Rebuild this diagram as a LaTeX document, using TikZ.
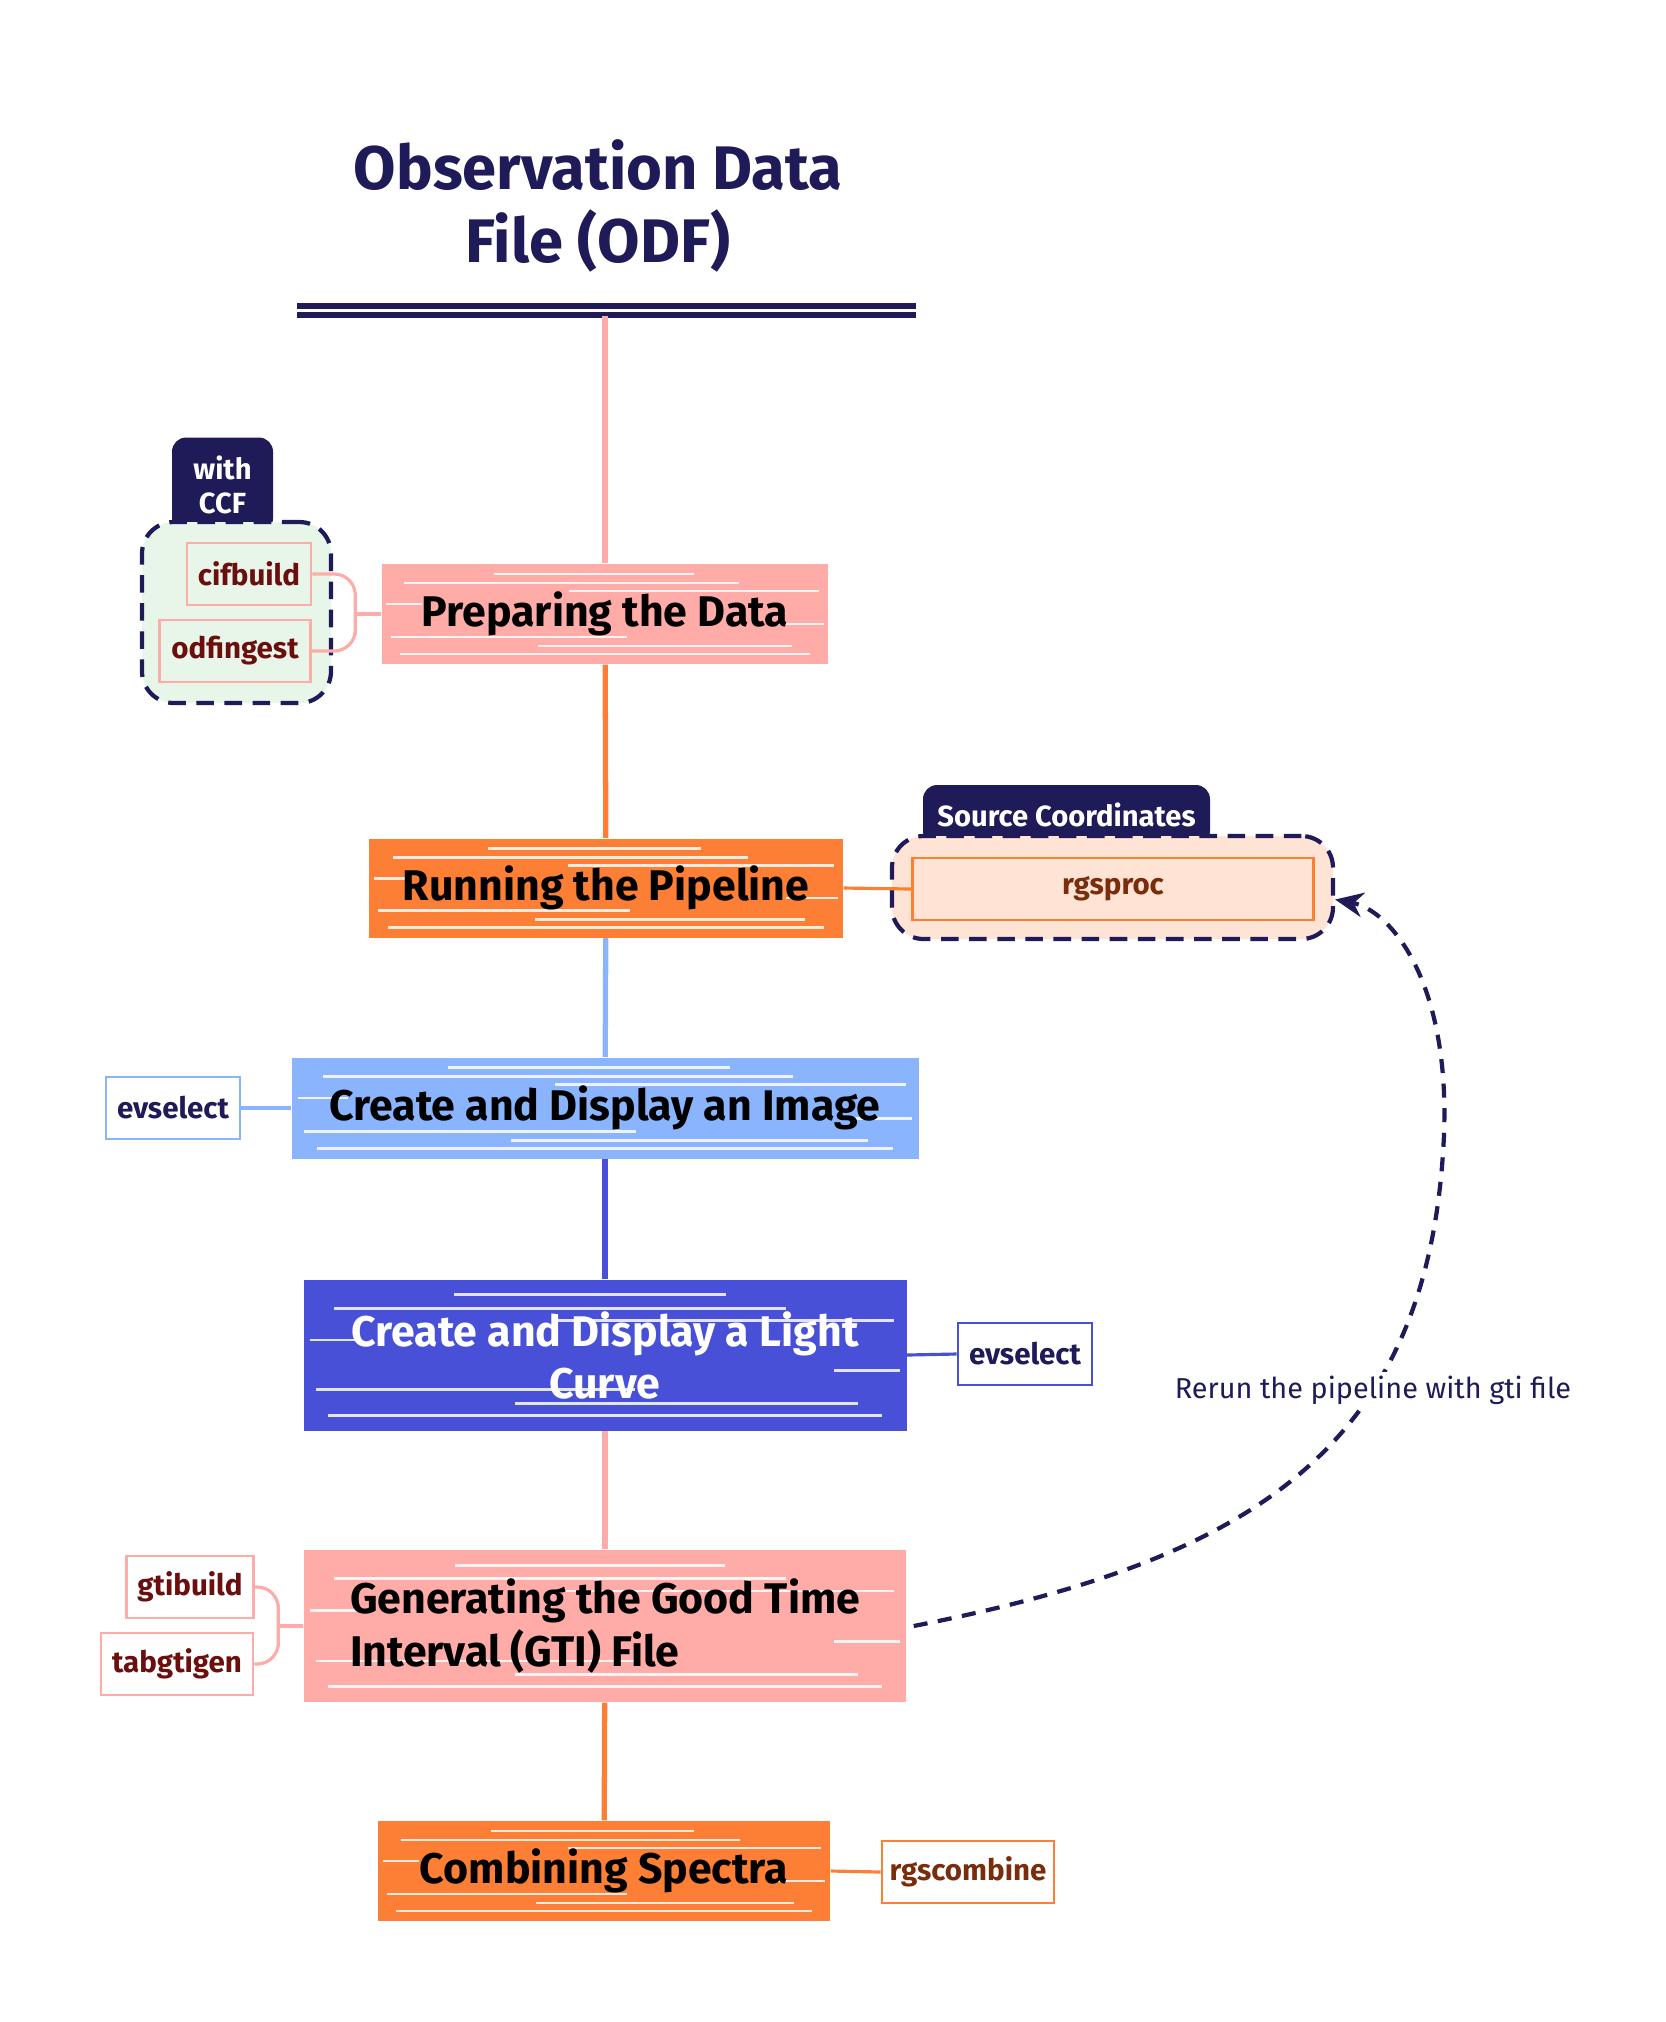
\documentclass[tikz,border=0pt]{standalone}
\usepackage{fontspec}
\setmainfont{Fira Sans}
\usepackage{tikz}
\usetikzlibrary{positioning,calc,arrows.meta}
\definecolor{navy}{HTML}{1E1B58}
\definecolor{pinkbox}{HTML}{FFABA8}
\definecolor{orangebox}{HTML}{FD7F35}
\definecolor{skybox}{HTML}{8AB4FD}
\definecolor{lcbox}{HTML}{4950D8}
\definecolor{ccfgreen}{HTML}{E8F6EA}
\definecolor{peach}{HTML}{FFE4D6}
\definecolor{darkred}{HTML}{6B0E0E}
\definecolor{brownish}{HTML}{7A2D0C}
\tikzstyle{scribble} = [path picture={
  \foreach \h/\l/\r in {0.1/0.04/0.96, 0.18/0.35/0.92, 0.27/0.02/0.55, 0.4/0.88/0.99, 0.6/0.01/0.09, 0.73/0.42/0.98, 0.81/0.05/0.8, 0.9/0.25/0.7}
    \draw[white, line width=0.8pt, opacity=0.85] let \p1=(path picture bounding box.south west), \p2=(path picture bounding box.north east) in
      ({\x1+\l*(\x2-\x1)},{\y1+\h*(\y2-\y1)}) -- ({\x1+\r*(\x2-\x1)},{\y1+\h*(\y2-\y1)});
}]
\tikzstyle{topic} = [rectangle, inner sep=0pt, align=center, font=\fontsize{12.2}{14.8}\selectfont\bfseries, scribble]
\tikzstyle{tool} = [rectangle, draw, line width=0.8pt, fill=white, inner sep=0pt, minimum height=0.62cm, font=\fontsize{8.4}{10}\selectfont\bfseries]
\tikzstyle{group} = [rectangle, draw=navy, line width=1.2pt, dash pattern=on 5pt off 3pt, rounded corners=9pt, inner sep=0pt]
\tikzstyle{tab} = [rectangle, fill=navy, text=white, rounded corners=4pt, inner sep=0pt, align=center, font=\fontsize{8.3}{9.5}\selectfont\bfseries]
\tikzstyle{line} = [draw, line width=1.5pt]
\tikzstyle{subline} = [draw, line width=0.9pt, rounded corners=6pt]

\begin{document}
\begin{tikzpicture}
\useasboundingbox (0,0) rectangle (16.66,-20.22);

% title
\node [text=navy, align=center, font=\fontsize{17.5}{21}\selectfont\bfseries] (odf) at (5.98,-2.06) {Observation Data\\File (ODF)};
\draw [navy, line width=1.5pt] (2.97,-3.06) -- (9.16,-3.06);
\draw [navy, line width=1.5pt] (2.97,-3.15) -- (9.16,-3.15);
\coordinate (bar) at (6.05,-3.16);

% main steps
\node [topic, fill=pinkbox, minimum width=4.46cm, minimum height=1.0cm] (prep) at (6.05,-6.14) {Preparing the Data};
\node [topic, fill=orangebox, minimum width=4.74cm, minimum height=0.99cm] (run) at (6.06,-8.88) {Running the Pipeline};
\node [topic, fill=skybox, minimum width=6.27cm, minimum height=1.01cm] (image) at (6.05,-11.08) {Create and Display an Image};
\node [topic, fill=lcbox, text=white, minimum width=6.03cm, minimum height=1.51cm] (light) at (6.05,-13.55) {Create and Display a Light\\Curve};
\node [topic, fill=pinkbox, align=left, minimum width=6.02cm, minimum height=1.52cm] (gti) at (6.05,-16.26) {Generating the Good Time\\Interval (GTI) File};
\node [topic, fill=orangebox, minimum width=4.52cm, minimum height=1.0cm] (comb) at (6.04,-18.71) {Combining Spectra};

% groups with tabs
\node [tab, minimum width=1.01cm, minimum height=0.95cm] (ccftab) at (2.225,-4.85) {with\\CCF};
\node [group, fill=ccfgreen, minimum width=1.89cm, minimum height=1.81cm] (ccfgrp) at (2.365,-6.125) {};
\node [tab, minimum width=2.87cm, minimum height=0.6cm] (srctab) at (10.665,-8.15) {Source Coordinates};
\node [group, fill=peach, minimum width=4.41cm, minimum height=1.03cm] (rgsgrp) at (11.125,-8.875) {};

% tools
\node [tool, draw=pinkbox, fill=ccfgreen, text=darkred, minimum width=1.24cm] (cif) at (2.49,-5.74) {cifbuild};
\node [tool, draw=pinkbox, fill=ccfgreen, text=darkred, minimum width=1.51cm] (odfing) at (2.35,-6.51) {odfingest};
\node [tool, draw=orangebox, fill=peach, text=brownish, minimum width=4.01cm] (rgsproc) at (11.13,-8.89) {rgsproc};
\node [tool, draw=skybox, text=navy, minimum width=1.34cm] (evl) at (1.73,-11.08) {evselect};
\node [tool, draw=lcbox, text=navy, minimum width=1.34cm] (evr) at (10.25,-13.54) {evselect};
\node [tool, draw=pinkbox, text=darkred, minimum width=1.27cm] (gtib) at (1.90,-15.87) {gtibuild};
\node [tool, draw=pinkbox, text=darkred, minimum width=1.52cm] (tabg) at (1.77,-16.64) {tabgtigen};
\node [tool, draw=orangebox, text=brownish, minimum width=1.72cm] (rgsc) at (9.68,-18.72) {rgscombine};

% main flow
\path [line, draw=pinkbox] (bar) -- (prep);
\path [line, draw=orangebox] (prep) -- (run);
\path [line, draw=skybox] (run) -- (image);
\path [line, draw=lcbox] (image) -- (light);
\path [line, draw=pinkbox] (light) -- (gti);
\path [line, draw=orangebox] (gti) -- (comb);

% tool links
\path [subline, draw=pinkbox] (cif.east) -| ([xshift=-0.26cm]prep.west) |- (odfing.east);
\path [subline, draw=pinkbox] (prep.west) -- ++(-0.26,0);
\path [subline, draw=orangebox] (run.east) -- (rgsproc.west);
\path [subline, draw=skybox] (evl.east) -- (image.west);
\path [subline, draw=lcbox] (light.east) -- (evr.west);
\path [subline, draw=pinkbox] (gtib.east) -| ([xshift=-0.25cm]gti.west) |- (tabg.east);
\path [subline, draw=pinkbox] (gti.west) -- ++(-0.25,0);
\path [subline, draw=orangebox] (comb.east) -- (rgsc.west);

% rerun loop
\draw [navy, line width=1.2pt, dash pattern=on 4pt off 3pt, -{Stealth[length=8pt,width=7pt]}]
  ([xshift=0.07cm]gti.east) .. controls (12.5,-15.6) and (14.3,-14.5) .. (14.44,-11.35)
  .. controls (14.5,-9.8) and (13.9,-9.1) .. ([yshift=-0.12cm]rgsgrp.east);
\node [fill=white, inner sep=1pt, text=navy, font=\fontsize{8.2}{10}\selectfont] (rerun) at (13.73,-13.90) {Rerun the pipeline with gti file};
\end{tikzpicture}
\end{document}
